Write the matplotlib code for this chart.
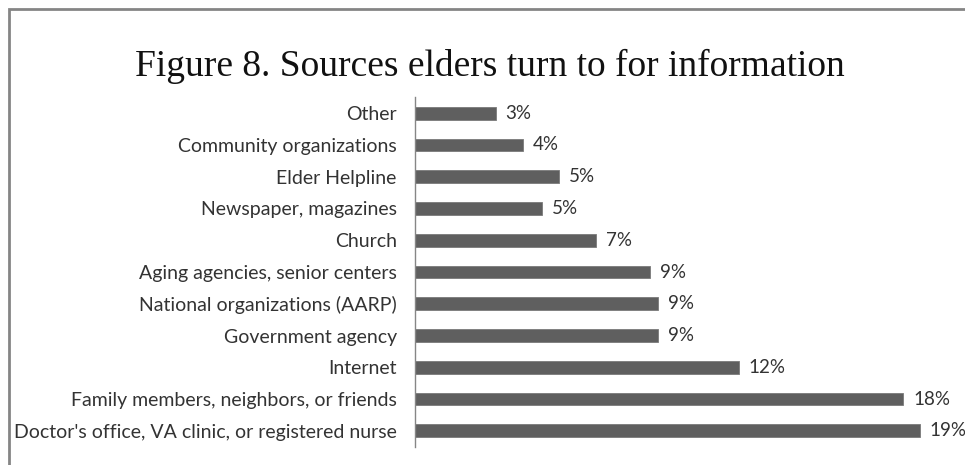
import matplotlib
matplotlib.use('Agg')
import matplotlib.pyplot as plt
from matplotlib.patches import Rectangle

# categories from top to bottom, as in the picture
sources = ['Other', 'Community organizations', 'Elder Helpline',
           'Newspaper, magazines', 'Church', 'Aging agencies, senior centers',
           'National organizations (AARP)', 'Government agency', 'Internet',
           'Family members, neighbors, or friends',
           "Doctor's office, VA clinic, or registered nurse"]
shares = [3.0, 4.0, 5.35, 4.7, 6.7, 8.7, 9.0, 9.0, 12.0, 18.1, 18.7]
share_labels = ['3%', '4%', '5%', '5%', '7%', '9%', '9%', '9%', '12%', '18%', '19%']

W, H = 965, 465
fig = plt.figure(figsize=(W / 100, H / 100), dpi=100)
fig.patch.set_facecolor('white')

# grey frame round the chart (runs off the right and bottom edges)
fig.patches.append(Rectangle((8.7 / W, -0.1), 1.2, 1.1 - 9.5 / H,
                             transform=fig.transFigure, fill=False,
                             edgecolor='#858585', linewidth=2.0))

fig.text(490 / W, 1 - 76 / H, 'Figure 8. Sources elders turn to for information',
         ha='center', va='baseline', fontsize=27, family='Liberation Serif',
         color='#111111')

ax = fig.add_axes([414.7 / W, 1 - 446.7 / H, 540 / W, 349.4 / H])
pos = range(len(sources))
bars = ax.barh(pos, shares, height=0.4, color='#5f5f5f', edgecolor='#7a7a7a',
               linewidth=0.6)
ax.set_xlim(0, 20)
ax.set_ylim(len(sources) - 0.5, -0.5)

ax.set_yticks(list(pos))
ax.set_yticklabels(sources, family='Lato', fontsize=14, color='#333333')
ax.tick_params(axis='y', length=0, pad=13)
ax.set_xticks([])

for s in ['top', 'right', 'bottom']:
    ax.spines[s].set_visible(False)
ax.spines['left'].set_color('#868686')
ax.spines['left'].set_linewidth(1.0)

for bar, lab in zip(bars, share_labels):
    ax.text(bar.get_width() + 0.37, bar.get_y() + bar.get_height() / 2, lab,
            va='center', ha='left', family='Lato', fontsize=13.5,
            color='#333333', clip_on=False)

fig.savefig('out.png', dpi=100)
